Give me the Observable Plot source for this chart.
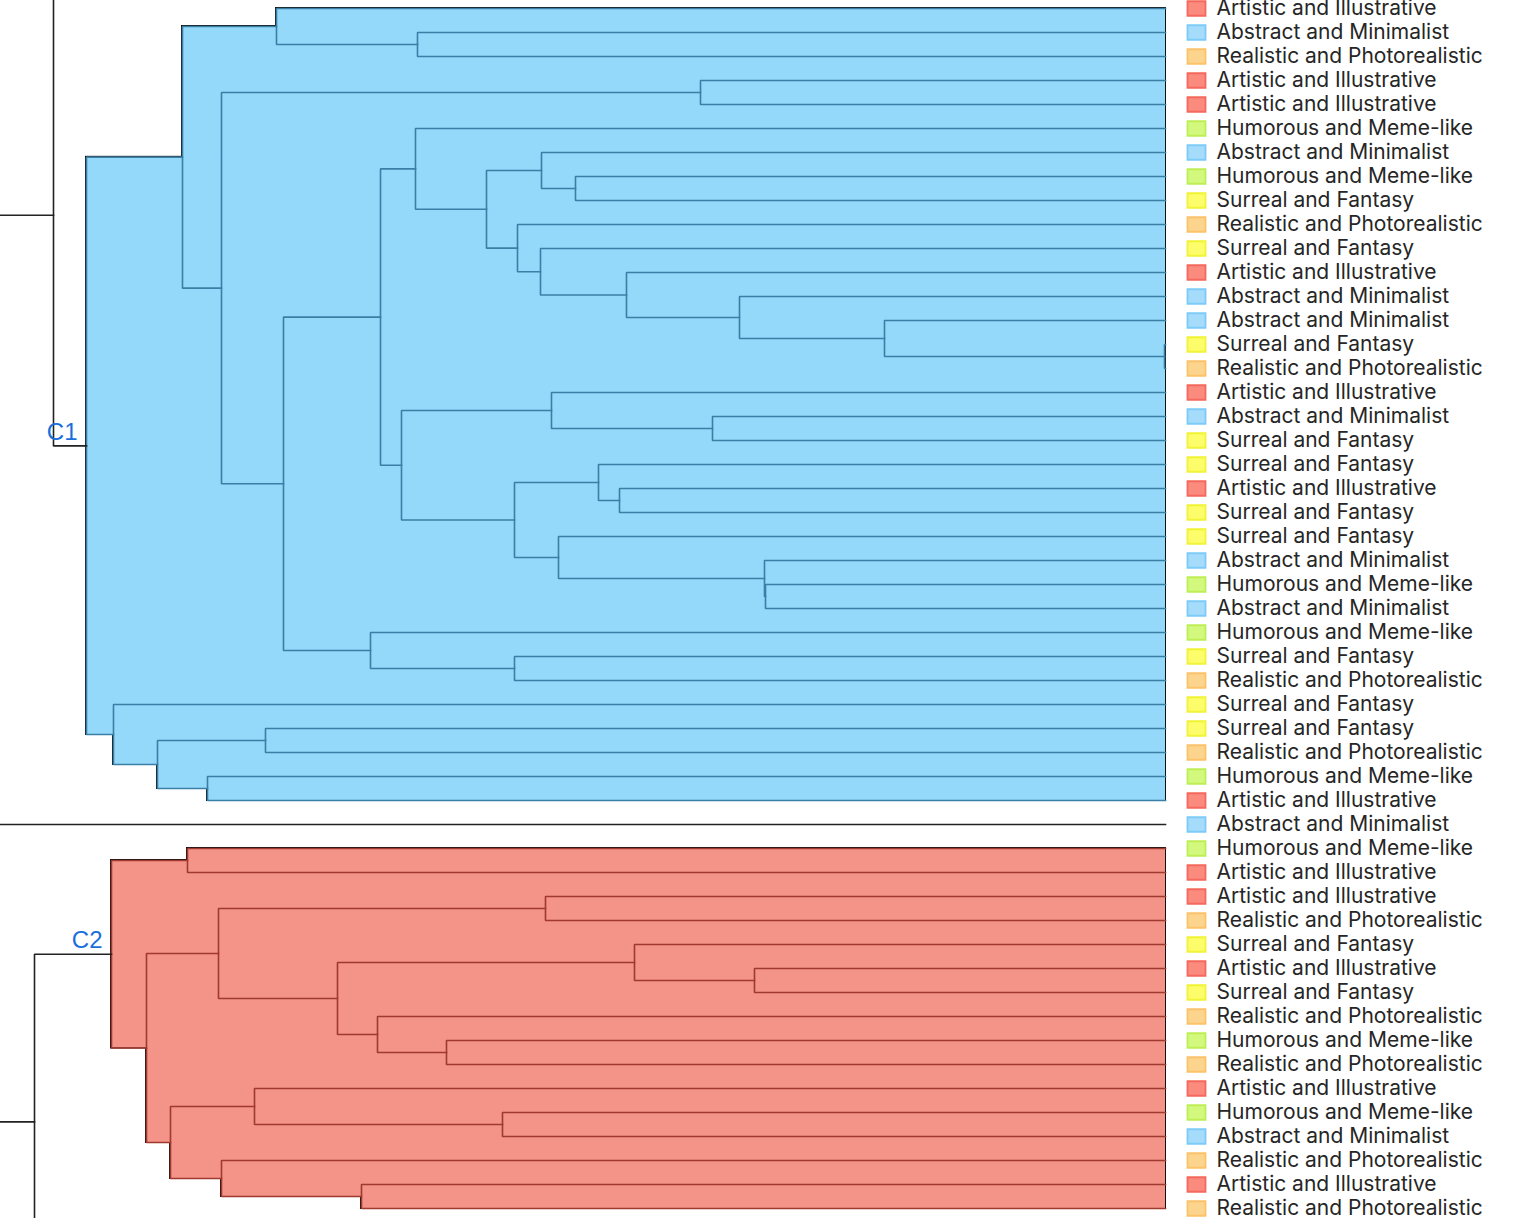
<!DOCTYPE html>
<html><head><meta charset="utf-8">
<script src="https://cdn.jsdelivr.net/npm/d3@7"></script>
<script src="https://cdn.jsdelivr.net/npm/@observablehq/plot@0.6"></script>
<style>html,body{margin:0;padding:0;background:#fff;overflow:hidden}</style>
</head><body><div id="chart"></div>
<script>
// Leaf categories (in dendrogram order, top to bottom)
const categories = ["Artistic and Illustrative","Abstract and Minimalist","Realistic and Photorealistic","Humorous and Meme-like","Surreal and Fantasy"];
const categoryFill = ["#fb8a7f","#a6dcfb","#fdd48e","#d3f87e","#fdfd6b"];
const categoryStroke = ["#f5685c","#7ccbf7","#fbc26a","#bdee56","#f2f236"];
const leafCategory = [0,1,2,0,0,3,1,3,4,2, 4,0,1,1,4,2,0,1,4,4, 0,4,4,1,3,1,3,4,2,4, 4,2,3,0,1,3,0,0,2,4, 0,4,2,3,2,0,3,1,2,0, 2];

// Cluster styling
const clusterNames = ["C1","C2"];
const clusterFill = {C1:"#94d8fa", C2:"#f49388"};
const clusterLink = {C1:"#3a7fa5", C2:"#a0392f"};

// Merges: [node, left child, right child, merge distance]; numbers are leaf indices
const c1Merges = [
  ["n1",1,2,7.48],["n2",0,"n1",8.89],["n3",3,4,4.65],["n4",7,8,5.90],["n5",6,"n4",6.24],
  ["n6",14,15,0.01],["n7",13,"n6",2.81],["n8",12,"n7",4.26],["n9",11,"n8",5.39],["n10",10,"n9",6.25],
  ["n11",9,"n10",6.48],["n12","n5","n11",6.79],["n13",5,"n12",7.50],["n14",17,18,4.53],["n15",16,"n14",6.14],
  ["n16",20,21,5.46],["n17",19,"n16",5.67],["n18",24,25,4.00],["n19",23,"n18",4.01],["n20",22,"n19",6.07],
  ["n21","n17","n20",6.51],["n22","n15","n21",7.64],["n23","n13","n22",7.85],["n24",27,28,6.51],["n25",26,"n24",7.95],
  ["n26","n23","n25",8.82],["n27","n3","n26",9.44],["n28","n2","n27",9.83],["n29",30,31,9.00],["n30",32,33,9.58],
  ["n31","n29","n30",10.08],["n32",29,"n31",10.52],["C1","n28","n32",10.79]
];
const c2Merges = [
  ["m1",35,36,9.78],["m2",37,38,6.20],["m3",40,41,4.11],["m4",39,"m3",5.31],["m5",43,44,7.19],
  ["m6",42,"m5",7.88],["m7","m4","m6",8.28],["m8","m2","m7",9.47],["m9",46,47,6.63],["m10",45,"m9",9.11],
  ["m11",49,50,8.04],["m12",48,"m11",9.44],["m13","m10","m12",9.95],["m14","m8","m13",10.19],["C2","m1","m14",10.54]
];
// Upper levels of the tree (partly outside the visible window)
const outerMerges = [
  ["t1",-1,"C1",11.12],
  ["h1",51,52,5.0],["h2","h1",53,6.0],["h3",54,55,5.5],["h4","h2","h3",8.0],
  ["b1","C2","h4",11.31],
  ["r1",34,"b1",12.2],["root","t1","r1",12.6]
];

const nodes = new Map();
const get = id => typeof id === "number" ? {h:0, y:id} : nodes.get(id);
const all = [
  ...c1Merges.map(m => [...m, "C1"]),
  ...c2Merges.map(m => [...m, "C2"]),
  ...outerMerges.map(m => [...m, null])
];
const uPaths = [], boxes = [];
for (const [id, a, b, h, cl] of all) {
  const A = get(a), B = get(b);
  nodes.set(id, {h, y:(A.y + B.y) / 2});
  const col = cl ? clusterLink[cl] : "#222";
  uPaths.push({id, col, h:A.h, y:A.y}, {id, col, h, y:A.y}, {id, col, h, y:B.y}, {id, col, h:B.h, y:B.y});
  if (cl) boxes.push({fill: clusterFill[cl], h1:h, h2:0, y1:A.y, y2:B.y});
}
const leaves = leafCategory.map((c, i) => ({i, c}));
const clusterLabels = clusterNames.map(name => ({name, ...nodes.get(name)}));

const swatch = {draw(ctx) { ctx.rect(-9, -7.25, 18, 14.5); }};

const chart = Plot.plot({
  width: 1526, height: 1218,
  x: {domain: [11.65, 0], range: [0, 1165], axis: null},
  y: {domain: [0, 50], range: [8, 1208], axis: null},
  color: {type: "identity"},
  style: {fontFamily: "Inter, sans-serif", background: "#fff"},
  marks: [
    Plot.rect(boxes, {x1:"h1", x2:"h2", y1:"y1", y2:"y2", fill:"fill", stroke:"#111", strokeWidth:2}),
    Plot.rect(boxes, {x1:"h1", x2:"h2", y1:"y1", y2:"y2", fill:"fill"}),
    Plot.line(uPaths, {x:"h", y:"y", z:"id", stroke:"col", strokeWidth:1.6, strokeLinejoin:"miter", strokeLinecap:"square"}),
    Plot.dot(leaves, {x:() => 0, y:"i", dx:31, symbol:swatch, r:5,
      fill: d => categoryFill[d.c], stroke: d => categoryStroke[d.c], strokeWidth:1.8}),
    Plot.text(leaves, {x:() => 0, y:"i", dx:51, text: d => categories[d.c], textAnchor:"start",
      fontSize:21, fill:"#262626"}),
    Plot.text(clusterLabels, {x:"h", y:"y", text:"name", dx:-9, dy:-6, textAnchor:"end", lineAnchor:"bottom",
      fontSize:24, fill:"#1a6fdc", fontFamily:"'Liberation Sans', sans-serif"})
  ]
});
document.getElementById("chart").appendChild(chart);
</script>
</body></html>
